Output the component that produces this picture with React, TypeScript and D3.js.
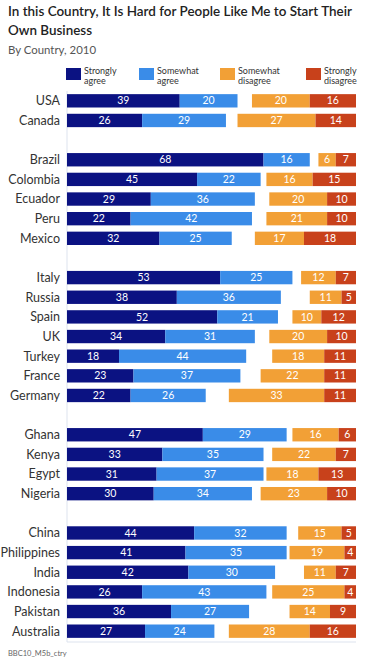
import React from 'react';
import * as d3 from 'd3';

// Survey: "In this Country, It Is Hard for People Like Me to Start Their Own Business"
const countries = [
	'USA', 'Canada', '',
	'Brazil', 'Colombia', 'Ecuador', 'Peru', 'Mexico', '',
	'Italy', 'Russia', 'Spain', 'UK', 'Turkey', 'France', 'Germany', '',
	'Ghana', 'Kenya', 'Egypt', 'Nigeria', '',
	'China', 'Philippines', 'India', 'Indonesia', 'Pakistan', 'Australia',
];
const stronglyAgree = [39, 26, null, 68, 45, 29, 22, 32, null, 53, 38, 52, 34, 18, 23, 22, null, 47, 33, 31, 30, null, 44, 41, 42, 26, 36, 27];
const somewhatAgree = [20, 29, null, 16, 22, 36, 42, 25, null, 25, 36, 21, 31, 44, 37, 26, null, 29, 35, 37, 34, null, 32, 35, 30, 43, 27, 24];
const somewhatDisagree = [20, 27, null, 6, 16, 20, 21, 17, null, 12, 11, 10, 20, 18, 22, 33, null, 16, 22, 18, 23, null, 15, 19, 11, 25, 14, 28];
const stronglyDisagree = [16, 14, null, 7, 15, 10, 10, 18, null, 7, 5, 12, 10, 11, 11, 11, null, 6, 7, 13, 10, null, 5, 4, 7, 4, 9, 16];

const legendLabels = [
	['Strongly', 'agree'],
	['Somewhat', 'agree'],
	['Somewhat', 'disagree'],
	['Strongly', 'disagree'],
];
const colors = ['#0b1282', '#3a8ce8', '#f2a036', '#c8411b'];

const W = 371;
const H = 659;
const font = "Lato, 'Noto Sans', sans-serif";

export default function App() {
	const x = d3.scaleLinear().domain([0, 100]).range([67, 356]);
	const y = d3
		.scaleBand<number>()
		.domain(d3.range(countries.length))
		.range([91, 641])
		.paddingInner(0.32)
		.paddingOuter(0.16);
	const bh = y.bandwidth();
	const legendX = [66, 139, 220, 306];

	const rows = countries.map((c, i) => {
		if (!c) return null;
		const sa = stronglyAgree[i] as number;
		const wa = somewhatAgree[i] as number;
		const wd = somewhatDisagree[i] as number;
		const sd = stronglyDisagree[i] as number;
		const segs = [
			{ v: sa, x0: x(0), x1: x(sa), c: colors[0] },
			{ v: wa, x0: x(sa), x1: x(sa + wa), c: colors[1] },
			{ v: wd, x0: x(100 - sd - wd), x1: x(100 - sd), c: colors[2] },
			{ v: sd, x0: x(100 - sd), x1: x(100), c: colors[3] },
		];
		const y0 = y(i) as number;
		return (
			<g key={c}>
				<text
					x={60}
					y={y0 + bh / 2}
					dy='0.35em'
					textAnchor='end'
					fontSize={12.5}
					fill='#333'>
					{c}
				</text>
				{segs.map((s, k) => (
					<g key={k}>
						<rect x={s.x0} y={y0} width={s.x1 - s.x0} height={bh} fill={s.c} />
						<text
							x={(s.x0 + s.x1) / 2}
							y={y0 + bh / 2}
							dy='0.35em'
							textAnchor='middle'
							fontSize={10.5}
							fill='#fff'>
							{s.v}
						</text>
					</g>
				))}
			</g>
		);
	});

	return (
		<svg
			width={W}
			height={H}
			style={{ position: 'absolute', left: 0, top: 0, background: '#fff' }}
			fontFamily={font}>
			<text
				x={8}
				y={16}
				fontSize={13.5}
				fontWeight={600}
				fill='#222'
				textLength={344}
				lengthAdjust='spacingAndGlyphs'>
				In this Country, It Is Hard for People Like Me to Start Their
			</text>
			<text
				x={8}
				y={35}
				fontSize={13.5}
				fontWeight={600}
				fill='#222'
				textLength={84}
				lengthAdjust='spacingAndGlyphs'>
				Own Business
			</text>
			<text
				x={8}
				y={54}
				fontSize={11.5}
				fill='#555'
				textLength={88}
				lengthAdjust='spacingAndGlyphs'>
				By Country, 2010
			</text>

			{legendLabels.map((l, i) => (
				<g key={i} transform={`translate(${legendX[i]},68)`}>
					<rect width={15} height={12} fill={colors[i]} />
					<text x={18} y={6} fontSize={9} fill='#333'>
						{l[0]}
					</text>
					<text x={18} y={16} fontSize={9} fill='#333'>
						{l[1]}
					</text>
				</g>
			))}

			<line x1={x(0)} x2={x(0)} y1={91} y2={642} stroke='#dde3ee' />
			<line x1={x(0)} x2={x(100)} y1={642} y2={642} stroke='#dde3ee' />

			{rows}

			<text x={8} y={656} fontSize={7.5} fill='#666'>
				BBC10_M5b_ctry
			</text>
		</svg>
	);
}
